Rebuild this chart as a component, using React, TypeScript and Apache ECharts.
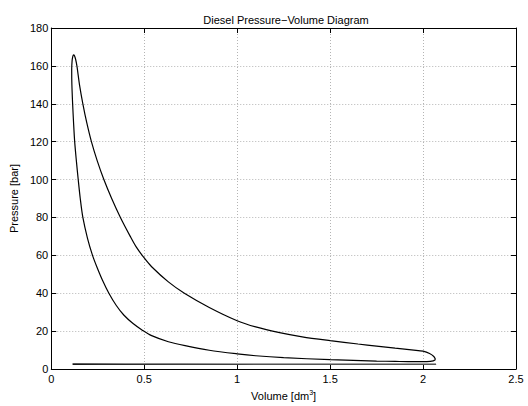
import React, { useEffect, useRef } from "react";
import * as echarts from "echarts";

// Main cycle loop (compression -> combustion peak -> expansion -> back to BDC)
const loopVolume = [
  2.067, 2.055, 2.02, 1.95, 1.85, 1.75, 1.5, 1.25, 1.1, 1.0, 0.85, 0.72, 0.63, 0.54, 0.49,
  0.44, 0.39, 0.35, 0.31, 0.275, 0.245, 0.222, 0.195, 0.17, 0.156, 0.145, 0.135, 0.126, 0.12,
  0.115, 0.111, 0.11, 0.112, 0.116, 0.12, 0.125, 0.131, 0.138, 0.152, 0.17, 0.191, 0.216,
  0.247, 0.283, 0.325, 0.372, 0.425, 0.456, 0.5, 0.54, 0.63, 0.716, 0.85, 1.0, 1.1, 1.228,
  1.35, 1.5, 1.65, 1.75, 1.85, 1.95, 2.0, 2.035, 2.058, 2.067,
];
const loopPressure = [
  5.0, 4.3, 3.9, 3.85, 4.0, 4.2, 4.9, 6.0, 7.0, 8.0, 9.9, 12.3, 14.4, 17.6, 20.5,
  24.0, 28.5, 33.5, 40.0, 47.0, 54.0, 60.0, 69.0, 80.0, 90.0, 100.0, 110.0, 120.0, 130.0,
  140.0, 150.0, 158.0, 162.5, 165.0, 165.8, 165.4, 163.5, 160.0, 150.0, 140.0, 130.0, 120.0,
  110.0, 100.0, 90.0, 80.0, 70.0, 64.6, 58.6, 54.0, 46.0, 40.0, 32.5, 25.5, 22.2, 19.2,
  17.0, 15.0, 13.2, 12.1, 11.0, 10.0, 9.4, 8.2, 6.6, 5.0,
];

// Gas exchange (pumping) lines
const exhaustVolume = [2.07, 1.0, 0.115];
const exhaustPressure = [2.45, 2.45, 2.45];
const intakeVolume = [0.115, 0.4, 1.0, 2.07];
const intakePressure = [2.8, 2.65, 2.5, 2.45];

// Axes
const xMin = 0;
const xMax = 2.5;
const xStep = 0.5;
const yMin = 0;
const yMax = 180;
const yStep = 20;

const titleText = "Diesel Pressure\u2212Volume Diagram";
const xName = "Volume [dm{sup|3}]";
const yName = "Pressure [bar]";

const pairs = (xs: number[], ys: number[]) => xs.map((x, i) => [x, ys[i]]);

const FONT = "Liberation Sans, Arial, Helvetica, sans-serif";

export default function App() {
  const ref = useRef<HTMLDivElement>(null);
  useEffect(() => {
    if (!ref.current) return;
    const chart = echarts.init(ref.current, undefined, { renderer: "svg" });
    const gridLine = { show: true, lineStyle: { color: "#b4b4b4", type: [1, 2] as any, width: 1 } };
    const axisLine = { show: true, onZero: false, lineStyle: { color: "#000", width: 1 } };
    const tick = { show: true, inside: true, length: 5, lineStyle: { color: "#000", width: 1 } };
    const label = { color: "#000", fontSize: 11, fontFamily: FONT };
    chart.setOption({
      animation: false,
      backgroundColor: "#fff",
      title: {
        text: titleText,
        left: 281,
        top: 9,
        textAlign: "center",
        textStyle: { fontSize: 11, fontWeight: "normal", color: "#000", fontFamily: FONT },
      },
      grid: { left: 46, right: 12, top: 28, bottom: 32, containLabel: false },
      xAxis: [
        {
          type: "value",
          min: xMin,
          max: xMax,
          interval: xStep,
          position: "bottom",
          axisLine,
          axisTick: tick,
          axisLabel: { ...label, margin: 4 },
          splitLine: gridLine,
          name: xName,
          nameLocation: "middle",
          nameGap: 20,
          nameTextStyle: {
            color: "#000",
            fontSize: 11,
            fontFamily: FONT,
            rich: { sup: { fontSize: 7, verticalAlign: "top", padding: [0, 0, 6, 0], color: "#000", fontFamily: FONT } },
          },
        },
        {
          type: "value",
          min: xMin,
          max: xMax,
          interval: xStep,
          position: "top",
          axisLine,
          axisTick: tick,
          axisLabel: { show: false },
          splitLine: { show: false },
        },
      ],
      yAxis: [
        {
          type: "value",
          min: yMin,
          max: yMax,
          interval: yStep,
          position: "left",
          axisLine,
          axisTick: tick,
          axisLabel: { ...label, margin: 3 },
          splitLine: gridLine,
          name: yName,
          nameLocation: "middle",
          nameGap: 27,
          nameTextStyle: { color: "#000", fontSize: 11, fontFamily: FONT },
        },
        {
          type: "value",
          min: yMin,
          max: yMax,
          interval: yStep,
          position: "right",
          axisLine,
          axisTick: tick,
          axisLabel: { show: false },
          splitLine: { show: false },
        },
      ],
      series: [
        {
          type: "line",
          data: pairs(loopVolume, loopPressure),
          showSymbol: false,
          smooth: 0.3,
          lineStyle: { color: "#000", width: 1.2 },
        },
        {
          type: "line",
          data: pairs(exhaustVolume, exhaustPressure),
          showSymbol: false,
          lineStyle: { color: "#000", width: 1.2 },
        },
        {
          type: "line",
          data: pairs(intakeVolume, intakePressure),
          showSymbol: false,
          smooth: 0.3,
          lineStyle: { color: "#555", width: 1.2 },
        },
      ],
    });
    return () => chart.dispose();
  }, []);
  return (
    <div
      ref={ref}
      style={{ position: "fixed", left: 0, top: 0, width: 528, height: 406, background: "#fff" }}
    />
  );
}
